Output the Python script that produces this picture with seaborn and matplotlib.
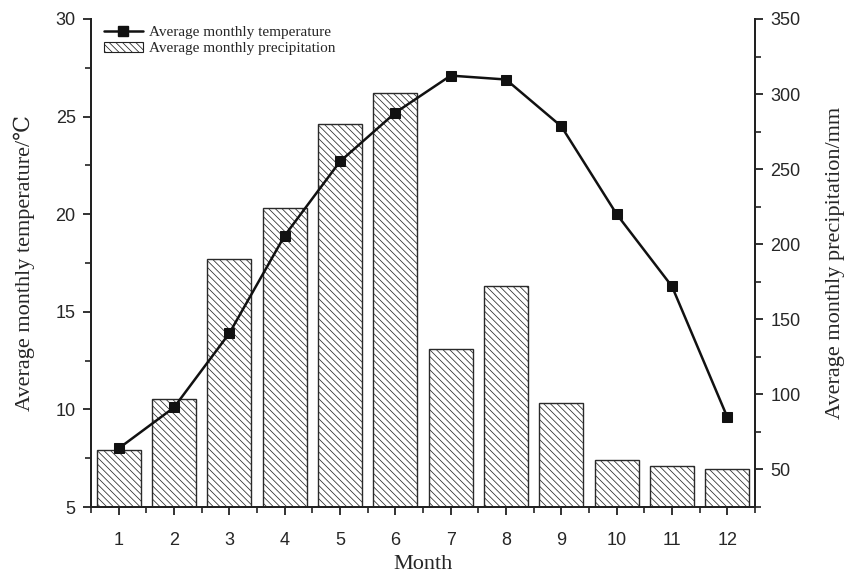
import matplotlib
matplotlib.use("Agg")
import matplotlib.pyplot as plt
import numpy as np
import pandas as pd
import seaborn as sns
from matplotlib.lines import Line2D
from matplotlib.patches import Patch
from matplotlib.ticker import MultipleLocator

# datos
months = [1, 2, 3, 4, 5, 6, 7, 8, 9, 10, 11, 12]
temperature = [8.0, 10.1, 13.9, 18.9, 22.7, 25.2, 27.1, 26.9, 24.5, 20.0, 16.3, 9.6]
precipitation = [63, 97, 190, 224, 280, 301, 130, 172, 94, 56, 52, 50]

temp_label = "Average monthly temperature"
prec_label = "Average monthly precipitation"

sns.set_style("ticks")
plt.rcParams["font.family"] = ["Liberation Sans", "DejaVu Sans"]
plt.rcParams["hatch.linewidth"] = 0.55
plt.rcParams["hatch.color"] = "#222222"

serif = ["Liberation Serif", "DejaVu Serif"]
hatch = "\\" * 5

df = pd.DataFrame({"month": months, "temp": temperature, "prec": precipitation})

fig = plt.figure(figsize=(8.51, 5.83), dpi=100)
ax = fig.add_axes([91 / 851, 1 - 507 / 583, 664 / 851, 488 / 583])
ax2 = ax.twinx()

# barras de precipitacion en el eje derecho
sns.barplot(data=df, x="month", y="prec", ax=ax2, native_scale=True,
            color="white", edgecolor="#2a2a2a", linewidth=1.0, width=0.8)
for bar in ax2.patches:
    bar.set_hatch(hatch)
    bar.set_facecolor("white")

# linea de temperatura en el eje izquierdo
sns.lineplot(data=df, x="month", y="temp", ax=ax, color="#111111",
             linewidth=1.8, marker="s", markersize=7, markeredgecolor="#111111")

ax.set_zorder(ax2.get_zorder() + 1)
ax.patch.set_visible(False)

ax.set_xlim(0.5, 12.5)
ax.set_ylim(5, 30)
ax2.set_ylim(25, 350)
ax.set_xticks(months)
ax.xaxis.set_minor_locator(MultipleLocator(0.5))
ax.yaxis.set_minor_locator(MultipleLocator(2.5))
ax.set_yticks([5, 10, 15, 20, 25, 30])
ax2.set_yticks([50, 100, 150, 200, 250, 300, 350])
ax2.yaxis.set_minor_locator(MultipleLocator(25))

for a in (ax, ax2):
    a.tick_params(which="major", direction="out", length=6, width=1.3,
                  labelsize=13, color="#222222", pad=5)
    a.tick_params(which="minor", direction="out", length=4, width=1.2,
                  color="#222222")
    for side in ("left", "right", "bottom"):
        a.spines[side].set_linewidth(1.4)
        a.spines[side].set_color("#222222")
    a.spines["top"].set_visible(False)
ax.tick_params(axis="x", which="major", pad=12)
ax2.tick_params(axis="x", which="both", bottom=False, labelbottom=False)

ax.set_xlabel("Month", family=serif, fontsize=16, labelpad=4)
ax.set_ylabel("Average monthly temperature/\u2103", family=serif, fontsize=16,
              labelpad=15)
ax2.set_ylabel("Average monthly precipitation/mm", family=serif, fontsize=16,
               labelpad=18)

handles = [
    Line2D([], [], color="#111111", linewidth=1.8, marker="s", markersize=7),
    Patch(facecolor="white", edgecolor="#222222", hatch=hatch, linewidth=0.8),
]
ax.legend(handles, [temp_label, prec_label], loc="upper left",
          bbox_to_anchor=(0.004, 1.008), frameon=False, handlelength=2.5,
          handletextpad=0.4, labelspacing=0.15, borderpad=0.2,
          prop={"family": serif, "size": 11})

fig.savefig("out.png", dpi=100)
